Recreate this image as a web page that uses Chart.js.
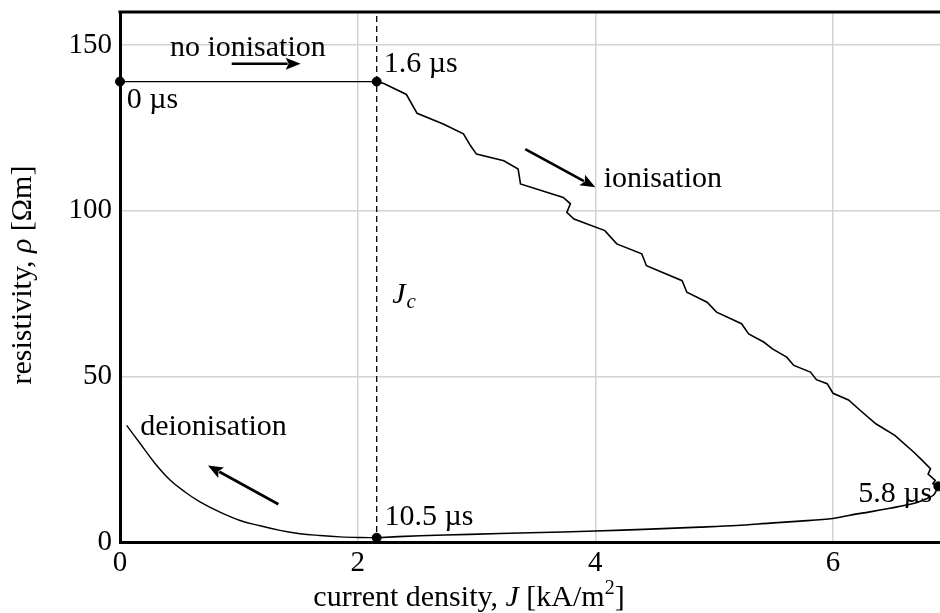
<!DOCTYPE html>
<html><head><meta charset="utf-8">
<script src="https://cdn.jsdelivr.net/npm/chart.js@4/dist/chart.umd.min.js"></script>
<style>html,body{margin:0;padding:0;background:#fff}canvas{display:block}</style>
</head><body><canvas id="c" width="940" height="613"></canvas>
<script>
// ---- data (J in kA/m^2, rho in Ohm m) ----
const J_c = 2.16;
const tickX = [0, 2, 4, 6];
const tickY = [0, 50, 100, 150];

const plateauJ   = [0.00, 2.16];
const plateauRho = [139, 139];

const ionJ   = [2.16, 2.22, 2.41, 2.50, 2.72, 2.89, 2.95, 3.00, 3.23, 3.35, 3.37, 3.73, 3.79, 3.76, 3.82, 4.08, 4.18, 4.39, 4.43, 4.73, 4.77, 4.94, 5.02, 5.23, 5.29, 5.42, 5.49, 5.61, 5.67, 5.81, 5.86, 5.95, 6.00, 6.13, 6.23, 6.36, 6.52, 6.68, 6.74, 6.82, 6.80, 6.86, 6.84, 6.886];
const ionRho = [139, 138.4, 135.1, 129.4, 126.2, 123.2, 119.6, 117.1, 115.1, 112.6, 108.1, 104.0, 102.1, 99.5, 97.5, 94.0, 90.0, 87.0, 83.4, 78.9, 75.4, 72.4, 69.4, 65.9, 62.8, 60.3, 58.3, 55.8, 53.3, 51.3, 49.0, 47.8, 44.9, 42.9, 39.7, 35.7, 32.2, 27.1, 25.0, 22.1, 20.5, 18.6, 17.6, 16.8];

const lowJ   = [6.886, 6.844, 6.774, 6.675, 6.479, 6.311, 6.142, 5.997, 5.722, 5.470, 5.189, 4.880, 4.459, 4.000, 3.450, 2.945, 2.524, 2.160];
const lowRho = [16.8, 14.1, 12.9, 11.6, 10.2, 9.1, 8.1, 7.1, 6.3, 5.7, 5.0, 4.5, 3.9, 3.3, 2.8, 2.3, 1.9, 1.3];

const deionJ   = [2.160, 2.019, 1.851, 1.683, 1.515, 1.346, 1.178, 1.010, 0.841, 0.673, 0.547, 0.421, 0.295, 0.168, 0.056];
const deionRho = [1.3, 1.35, 1.55, 1.95, 2.5, 3.5, 4.9, 6.5, 9.0, 12.1, 15.1, 18.7, 23.7, 29.8, 35.2];

const markJ   = [0.00, 2.16, 6.886, 2.16];
const markRho = [139, 139, 16.8, 1.3];

// annotation texts
const labelText = ['no ionisation', '1.6 \u00b5s', '0 \u00b5s', 'ionisation', 'deionisation', '10.5 \u00b5s', '5.8 \u00b5s'];
const labelJ    = [0.42, 2.22, 0.056, 4.07, 0.17, 2.225, 6.835];
const labelRho  = [146.8, 142.0, 131.0, 107.1, 32.2, 5.0, 12.1];
const labelAlign= ['left','left','left','left','left','left','right'];

// arrows [fromJ, fromRho, toJ, toRho]
const arrowFromJ = [0.94, 3.41, 1.333];
const arrowFromR = [144.4, 118.6, 11.4];
const arrowToJ   = [1.52, 4.00, 0.74];
const arrowToR   = [144.4, 107.1, 23.1];

const FONT = 'Liberation Serif';
const FS = 29;
const LS = 30;

const pts = (xs, ys) => xs.map((x, i) => ({x: x, y: ys[i]}));

const annot = {
  id: 'annot',
  afterDatasetsDraw(chart) {
    const ctx = chart.ctx, xs = chart.scales.x, ys = chart.scales.y, a = chart.chartArea;
    ctx.save();
    // top frame line
    ctx.strokeStyle = '#000'; ctx.lineWidth = 3;
    ctx.beginPath(); ctx.moveTo(a.left - 1.5, a.top); ctx.lineTo(a.right, a.top); ctx.stroke();
    // labels
    ctx.fillStyle = '#000'; ctx.textBaseline = 'alphabetic';
    ctx.font = LS + 'px "' + FONT + '"';
    labelText.forEach((t, i) => {
      ctx.textAlign = labelAlign[i];
      ctx.fillText(t, xs.getPixelForValue(labelJ[i]), ys.getPixelForValue(labelRho[i]));
    });
    // J_c
    ctx.textAlign = 'left';
    const jx = xs.getPixelForValue(2.29), jy = ys.getPixelForValue(72.3);
    ctx.font = 'italic ' + LS + 'px "' + FONT + '"';
    ctx.fillText('J', jx, jy);
    const jw = ctx.measureText('J').width;
    ctx.font = 'italic 21px "' + FONT + '"';
    ctx.fillText('c', jx + jw + 1, jy + 5);
    // arrows
    ctx.lineWidth = 2.6; ctx.strokeStyle = '#000';
    arrowFromJ.forEach((_, i) => {
      const x1 = xs.getPixelForValue(arrowFromJ[i]), y1 = ys.getPixelForValue(arrowFromR[i]);
      const x2 = xs.getPixelForValue(arrowToJ[i]), y2 = ys.getPixelForValue(arrowToR[i]);
      const ang = Math.atan2(y2 - y1, x2 - x1), L = 15, W = 6;
      const bx = x2 - L * Math.cos(ang), by = y2 - L * Math.sin(ang);
      ctx.beginPath(); ctx.moveTo(x1, y1); ctx.lineTo(bx + 2 * Math.cos(ang), by + 2 * Math.sin(ang)); ctx.stroke();
      ctx.beginPath();
      ctx.moveTo(x2, y2);
      ctx.lineTo(bx + W * Math.sin(ang), by - W * Math.cos(ang));
      ctx.lineTo(bx + 3 * Math.cos(ang), by + 3 * Math.sin(ang));
      ctx.lineTo(bx - W * Math.sin(ang), by + W * Math.cos(ang));
      ctx.closePath(); ctx.fill();
    });
    // axis titles
    const drawRuns = (runs, cx, cy) => {
      let total = 0;
      runs.forEach(r => { ctx.font = r.f; total += ctx.measureText(r.t).width; });
      let x = cx - total / 2;
      runs.forEach(r => { ctx.font = r.f; ctx.fillText(r.t, x, cy + (r.dy || 0)); x += ctx.measureText(r.t).width; });
    };
    const N = LS + 'px "' + FONT + '"', I = 'italic ' + LS + 'px "' + FONT + '"', S = '20px "' + FONT + '"';
    ctx.textAlign = 'left';
    drawRuns([{t:'current density, ', f:N}, {t:'J', f:I}, {t:' [kA/m', f:N}, {t:'2', f:S, dy:-12}, {t:']', f:N}], 469, 606);
    ctx.save();
    ctx.translate(31, 275); ctx.rotate(-Math.PI / 2);
    drawRuns([{t:'resistivity, ', f:N}, {t:'\u03c1', f:I}, {t:' [\u03a9m]', f:N}], 0, 0);
    ctx.restore();
    ctx.restore();
  }
};

new Chart(document.getElementById('c'), {
  type: 'scatter',
  data: {
    datasets: [
      {data: pts(plateauJ, plateauRho), showLine: true, borderColor: '#000', borderWidth: 1.3, pointRadius: 0},
      {data: pts(ionJ, ionRho), showLine: true, borderColor: '#000', borderWidth: 1.6, pointRadius: 0, tension: 0},
      {data: pts(lowJ, lowRho), showLine: true, borderColor: '#000', borderWidth: 1.6, pointRadius: 0, tension: 0.3},
      {data: pts(deionJ, deionRho), showLine: true, borderColor: '#000', borderWidth: 1.4, pointRadius: 0, tension: 0.4},
      {data: [{x: J_c, y: 0}, {x: J_c, y: 160}], showLine: true, borderColor: '#000', borderWidth: 1.3, borderDash: [6, 4], pointRadius: 0},
      {data: pts(markJ, markRho), showLine: false, pointRadius: 4.5, pointBackgroundColor: '#000', pointBorderColor: '#000', clip: false}
    ]
  },
  options: {
    responsive: false, animation: false, devicePixelRatio: 1,
    layout: {autoPadding: false, padding: {top: 12, right: 0, left: 0, bottom: 0}},
    plugins: {legend: {display: false}, tooltip: {enabled: false}},
    scales: {
      x: {
        type: 'linear', min: 0, max: 6.9,
        afterBuildTicks(s) { s.ticks = tickX.map(v => ({value: v})); },
        afterFit(s) { s.height = 71; s.paddingLeft = 0; s.paddingRight = 0; },
        ticks: {font: {family: FONT, size: FS}, color: '#000', padding: 4},
        grid: {color: '#d3d3d3', lineWidth: 1.5, drawTicks: false},
        border: {color: '#000', width: 3}
      },
      y: {
        type: 'linear', min: 0, max: 160,
        afterBuildTicks(s) { s.ticks = tickY.map(v => ({value: v})); },
        afterFit(s) { s.width = 120; s.paddingTop = 0; s.paddingBottom = 0; },
        ticks: {font: {family: FONT, size: FS}, color: '#000', padding: 8},
        grid: {color: '#d3d3d3', lineWidth: 1.5, drawTicks: false},
        border: {color: '#000', width: 3}
      }
    }
  },
  plugins: [annot]
});
</script></body></html>
